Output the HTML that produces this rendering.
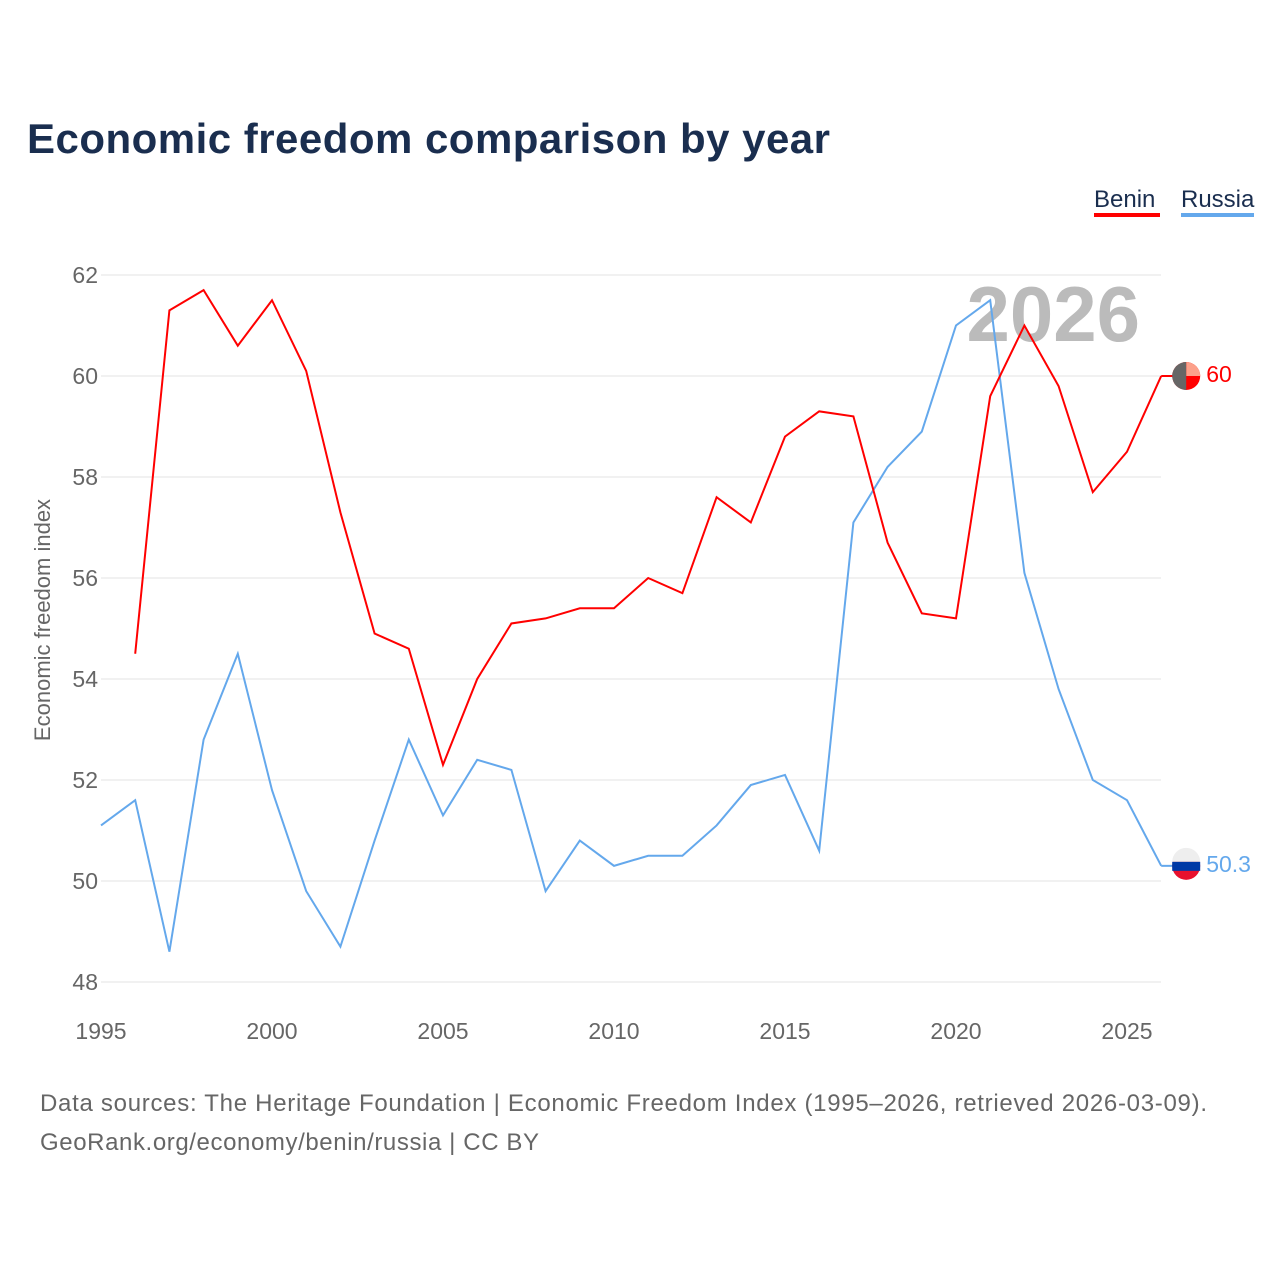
<!DOCTYPE html>
<html><head><meta charset="utf-8"><style>
body{margin:0;background:#fff;width:1280px;height:1280px;overflow:hidden;font-family:"Liberation Sans",sans-serif}
</style></head><body>
<svg width="1280" height="1280" style="font-family:'Liberation Sans',sans-serif">
<text x="27" y="153" font-size="42" font-weight="bold" fill="#1a2e4f" textLength="803">Economic freedom comparison by year</text>
<g><text x="1094" y="207" font-size="24" fill="#1a2e4f">Benin</text><rect x="1094" y="213" width="66" height="4" fill="#ff0000"/></g>
<g><text x="1181" y="207" font-size="24" fill="#1a2e4f">Russia</text><rect x="1181" y="213" width="73" height="4" fill="#64a8ec"/></g>
<text x="1140" y="341" font-size="78" font-weight="bold" fill="#bbb" text-anchor="end">2026</text>
<g id="grid"></g><g id="xt"></g>
<text transform="translate(50,620) rotate(-90)" font-size="22" fill="#666" text-anchor="middle">Economic freedom index</text>
<g id="lines"></g>
<text x="40" y="1111" font-size="24" fill="#666" textLength="1167">Data sources: The Heritage Foundation | Economic Freedom Index (1995–2026, retrieved 2026-03-09).</text>
<text x="40" y="1150" font-size="24" fill="#666" textLength="499">GeoRank.org/economy/benin/russia | CC BY</text>
</svg>
<script>
const yTicks=[48,50,52,54,56,58,60,62];
const xTicks=[1995,2000,2005,2010,2015,2020,2025];
const beninYears=[1996,1997,1998,1999,2000,2001,2002,2003,2004,2005,2006,2007,2008,2009,2010,2011,2012,2013,2014,2015,2016,2017,2018,2019,2020,2021,2022,2023,2024,2025,2026];
const beninVals=[54.5,61.3,61.7,60.6,61.5,60.1,57.3,54.9,54.6,52.3,54.0,55.1,55.2,55.4,55.4,56.0,55.7,57.6,57.1,58.8,59.3,59.2,56.7,55.3,55.2,59.6,61.0,59.8,57.7,58.5,60.0];
const russiaYears=[1995,1996,1997,1998,1999,2000,2001,2002,2003,2004,2005,2006,2007,2008,2009,2010,2011,2012,2013,2014,2015,2016,2017,2018,2019,2020,2021,2022,2023,2024,2025,2026];
const russiaVals=[51.1,51.6,48.6,52.8,54.5,51.8,49.8,48.7,50.8,52.8,51.3,52.4,52.2,49.8,50.8,50.3,50.5,50.5,51.1,51.9,52.1,50.6,57.1,58.2,58.9,61.0,61.5,56.1,53.8,52.0,51.6,50.3];
const X=y=>101+(y-1995)*34.2, Y=v=>275+(62-v)*50.5;
const NS='http://www.w3.org/2000/svg';
function mk(t,a,p){const e=document.createElementNS(NS,t);for(const k in a)e.setAttribute(k,a[k]);p.appendChild(e);return e;}
const g=document.getElementById('grid');
yTicks.forEach(v=>{
 const l=mk('line',{x1:101,x2:1161,y1:Y(v),y2:Y(v),stroke:'#e3e3e3','stroke-width':1},g);
 
 
 const t=mk('text',{x:98,y:Y(v)+8,'font-size':23,fill:'#666','text-anchor':'end'},g);t.textContent=v;
 
 
});
const xt=document.getElementById('xt');
xTicks.forEach(v=>{
 const t=mk('text',{x:X(v),y:1039,'font-size':23,fill:'#666','text-anchor':'middle'},xt);t.textContent=v;
 
 
});
const lg=document.getElementById('lines');
function series(ys,vs,c,name){
 const p=mk('polyline',{points:ys.map((y,i)=>X(y)+','+Y(vs[i])).join(' '),fill:'none',stroke:c,'stroke-width':2},lg);
 
 
 const lx=X(ys[ys.length-1]),ly=Y(vs[vs.length-1]);
 mk('line',{x1:lx,x2:lx+14,y1:ly,y2:ly,stroke:c,'stroke-width':2},lg);
 const cx=lx+25;
 const m=mk('g',{},lg);
 
 
 if(name==='benin'){
  mk('circle',{cx:cx,cy:ly,r:14,fill:'#ff0000'},m);
  mk('path',{d:`M${cx} ${ly}L${cx} ${ly-14}A14 14 0 0 1 ${cx+14} ${ly}Z`,fill:'#fca08a'},m);
  mk('path',{d:`M${cx} ${ly-14}A14 14 0 0 0 ${cx} ${ly+14}Z`,fill:'#666'},m);
 }else{
  mk('circle',{cx:cx,cy:ly,r:14,fill:'#e8112d'},m);
  mk('path',{d:`M${cx-14} ${ly-4}A14 14 0 0 1 ${cx+14} ${ly-4}Z`,fill:'#eee'},m);
  mk('rect',{x:cx-14,y:ly-4,width:28,height:9,fill:'#0039a6'},m);
 }
 const t=mk('text',{x:cx+20,y:ly+6,'font-size':23,fill:c},lg);t.textContent=vs[vs.length-1];
 
 
}
series(russiaYears,russiaVals,'#64a8ec','russia');
series(beninYears,beninVals,'#ff0000','benin');
</script>
</body></html>
